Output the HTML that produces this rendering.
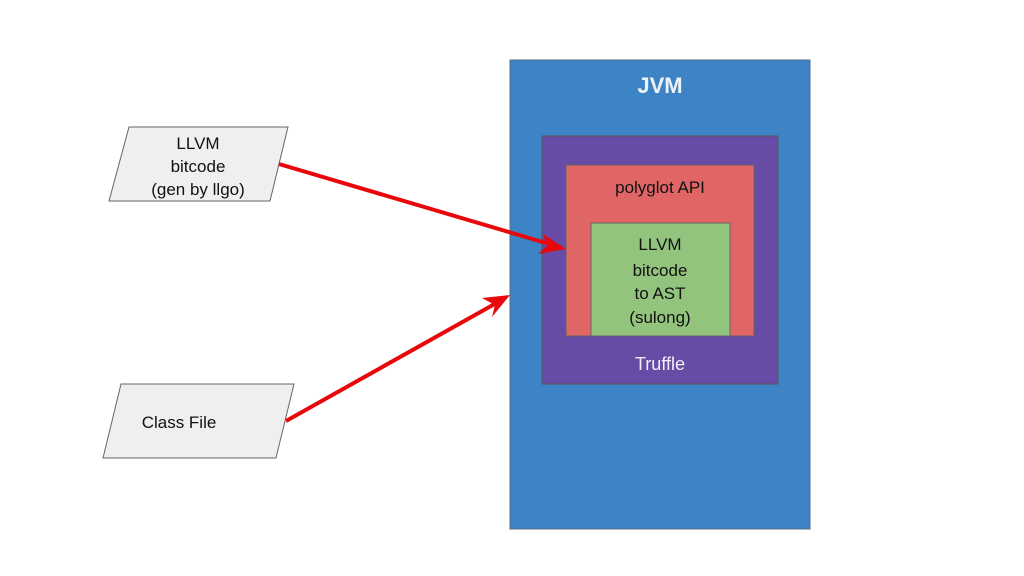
<!DOCTYPE html>
<html><head><style>body{margin:0;background:#fff}svg{display:block}</style></head><body>
<svg width="1024" height="576" viewBox="0 0 1024 576" xmlns="http://www.w3.org/2000/svg" font-family="Liberation Sans, sans-serif">
<rect x="510" y="60" width="300" height="469" fill="#3d84c6" stroke="#5a6e80" stroke-width="1"/>
<text x="660" y="93" font-size="22" font-weight="bold" fill="#eef2f8" text-anchor="middle">JVM</text>
<rect x="542" y="136" width="236" height="248" fill="#674ba5" stroke="#555" stroke-width="1"/>
<text x="660" y="370" font-size="18" fill="#f0eef8" text-anchor="middle">Truffle</text>
<rect x="566" y="165" width="188" height="171" fill="#e06666" stroke="#666" stroke-width="1"/>
<text x="660" y="193" font-size="17" fill="#111" text-anchor="middle">polyglot API</text>
<rect x="591" y="223" width="139" height="113" fill="#93c47d" stroke="#666" stroke-width="1"/>
<g font-size="17" fill="#111" text-anchor="middle">
<text x="660" y="250">LLVM</text><text x="660" y="276">bitcode</text><text x="660" y="299">to AST</text><text x="660" y="323">(sulong)</text>
</g>
<polygon points="129,127 288,127 270,201 109,201" fill="#efefef" stroke="#666" stroke-width="1"/>
<g font-size="17" fill="#111" text-anchor="middle">
<text x="198" y="149">LLVM</text><text x="198" y="172">bitcode</text><text x="198" y="195">(gen by llgo)</text>
</g>
<polygon points="121,384 294,384 276,458 103,458" fill="#efefef" stroke="#666" stroke-width="1"/>
<text x="179" y="428" font-size="17" fill="#111" text-anchor="middle">Class File</text>
<g stroke="#e8070b" stroke-width="4" fill="#e8070b">
<line x1="279" y1="164" x2="556" y2="246"/>
<line x1="286" y1="421" x2="500" y2="301"/>
</g>
<polygon points="566,249 538,254 547,246 543,234" fill="#e8070b"/>
<polygon points="510,295 492,317 495,305 482,298" fill="#e8070b"/>
</svg>
</body></html>
